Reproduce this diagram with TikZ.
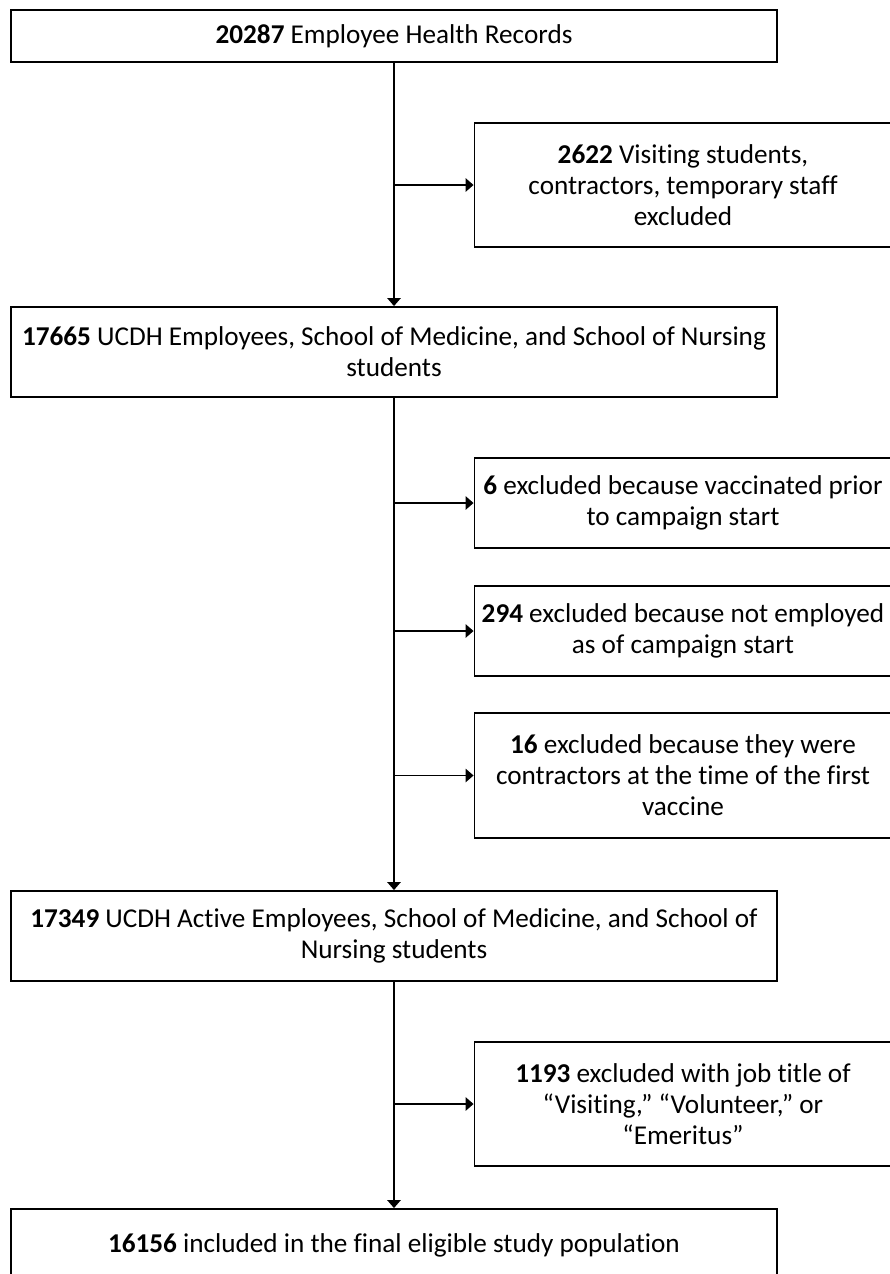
\documentclass[tikz,border=0pt]{standalone}
\usepackage{fontspec}
\setmainfont[Ligatures=NoCommon]{Carlito}
\usetikzlibrary{arrows.meta,positioning}

\begin{document}
\begin{tikzpicture}
[x=0.75pt,y=-0.75pt,font=\fontsize{20.4}{23.25}\selectfont]
\tikzset{
	box/.style = {draw, line width=1.4pt, align=center, inner sep=0pt},
	mainbox/.style = {box, minimum width=574.5pt},
	sidebox/.style = {box, minimum width=312.75pt},
	flow/.style = {line width=1.4pt, -{Triangle[width=10pt,length=6pt]}}
}
\useasboundingbox (0,0) rectangle (889,1274);

\node(rec) [mainbox, minimum height=39pt] at (394,36) {\textbf{20287} Employee Health Records};
\node(emp) [mainbox, minimum height=67.5pt] at (394,352) {\textbf{17665} UCDH Employees, School of Medicine, and School of Nursing\\students};
\node(act) [mainbox, minimum height=67.5pt] at (394,936) {\textbf{17349} UCDH Active Employees, School of Medicine, and School of\\Nursing students};
\node(fin) [mainbox, minimum height=54pt] at (394,1245) {\textbf{16156} included in the final eligible study population};

\node(visit) [sidebox, minimum height=93pt] at (683,185) {\textbf{2622} Visiting students,\\contractors, temporary staff\\excluded};
\node(vacc) [sidebox, minimum height=67.5pt] at (683,503) {\textbf{6} excluded because vaccinated prior\\to campaign start};
\node(notemp) [sidebox, minimum height=67.5pt] at (683,631) {\textbf{294} excluded because not employed\\as of campaign start};
\node(contr) [sidebox, minimum height=93.75pt] at (683,775.5) {\textbf{16} excluded because they were\\contractors at the time of the first\\vaccine};
\node(title) [sidebox, minimum height=93pt] at (683,1104) {\textbf{1193} excluded with job title of\\“Visiting,” “Volunteer,” or\\“Emeritus”};

\draw[flow] (rec) -- (emp);
\draw[flow] (emp) -- (act);
\draw[flow] (act) -- (fin);

\draw[flow] (rec.south |- visit.west) -- (visit.west);
\draw[flow] (emp.south |- vacc.west) -- (vacc.west);
\draw[flow] (emp.south |- notemp.west) -- (notemp.west);
\draw[flow] (emp.south |- contr.west) -- (contr.west);
\draw[flow] (act.south |- title.west) -- (title.west);

\end{tikzpicture}
\end{document}
